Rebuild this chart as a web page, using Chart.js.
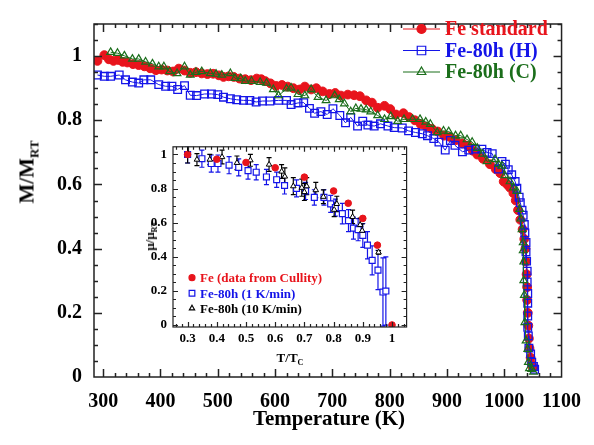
<!DOCTYPE html>
<html>
<head>
<meta charset="utf-8">
<script src="https://cdn.jsdelivr.net/npm/chart.js@4.4.1/dist/chart.umd.min.js"></script>
<style>
  html, body { margin: 0; padding: 0; background: #fff; }
  #wrap { position: relative; width: 594px; height: 445px; font-family: 'Liberation Serif', 'Times New Roman', serif; font-weight: bold; color: #000; }
  #main { position: absolute; left: 0; top: 0; }
  #inset { position: absolute; left: 130px; top: 133px; }
  .lbl { position: absolute; white-space: nowrap; transform: translate(-50%, -50%); }
  .rot { transform: translate(-50%, -50%) rotate(-90deg); }
  sub { font-size: 62%; vertical-align: -0.35em; line-height: 0; }
</style>
</head>
<body>
<div id="wrap">
  <canvas id="main" width="594" height="445"></canvas>
  <canvas id="inset" width="282" height="240"></canvas>
  <div class="lbl rot" style="left:27px; top:172px; font-size:21px;">M/M<sub>RT</sub></div>
  <div class="lbl" style="left:329px; top:418px; font-size:21px;">Temperature (K)</div>
  <div class="lbl" style="left:290px; top:358px; font-size:13px;">T/T<sub>C</sub></div>
  <div class="lbl rot" style="left:150px; top:236px; font-size:13px;">&mu;/&mu;<sub>RT</sub></div>
</div>
<script>
// ---- main plot: M/M_RT vs temperature ----
const seriesNames = ['Fe standard', 'Fe-80h (H)', 'Fe-80h (C)'];

const feStdT = [290, 302, 310, 318, 326, 334, 342, 352, 362, 372, 382, 392, 402, 412, 422, 432, 442, 452, 462, 472,
  482, 492, 502, 510, 519, 528, 538, 548, 558, 568, 576, 583, 592, 602, 612, 622, 632, 643, 652, 663,
  672, 683, 695, 705, 715, 727, 738, 748, 759, 769, 779, 791, 801, 811, 824, 834, 844, 854, 864, 874,
  884, 895, 905, 915, 927, 937, 945, 953, 963, 975, 985, 993, 999, 1005, 1010, 1016, 1020, 1024, 1028, 1032,
  1035, 1037, 1038, 1039, 1040, 1040, 1041, 1042, 1043, 1044, 1046, 1048, 1050];
const feStdM = [0.985, 1.003, 0.99, 0.985, 0.988, 0.982, 0.98, 0.975, 0.972, 0.968, 0.962, 0.956, 0.958, 0.955, 0.952, 0.961, 0.955, 0.948, 0.95, 0.946,
  0.944, 0.945, 0.94, 0.935, 0.937, 0.935, 0.93, 0.928, 0.925, 0.93, 0.928, 0.922, 0.915, 0.907, 0.91, 0.905, 0.9, 0.896, 0.905, 0.896,
  0.9, 0.89, 0.882, 0.885, 0.877, 0.88, 0.878, 0.875, 0.862, 0.855, 0.839, 0.845, 0.835, 0.818, 0.822, 0.81, 0.8, 0.788, 0.78, 0.773,
  0.765, 0.752, 0.748, 0.738, 0.728, 0.72, 0.705, 0.693, 0.68, 0.663, 0.648, 0.635, 0.609, 0.6, 0.59, 0.573, 0.55, 0.52, 0.49, 0.46,
  0.43, 0.4, 0.36, 0.32, 0.28, 0.24, 0.2, 0.16, 0.12, 0.09, 0.06, 0.04, 0.03];

const fe80hHT = [290, 302, 313, 328, 339, 351, 362, 371, 383, 397, 409, 420, 430, 442, 452, 463, 477, 489, 500, 510,
  522, 533, 545, 556, 567, 578, 591, 606, 620, 628, 640, 650, 660, 669, 680, 691, 701, 713, 723, 732,
  744, 753, 762, 773, 784, 797, 808, 822, 833, 845, 857, 866, 877, 886, 897, 906, 914, 927, 938, 950,
  961, 970, 979, 990, 996, 1002, 1007, 1013, 1019, 1022, 1026, 1028, 1031, 1033, 1035, 1036, 1038, 1038, 1039, 1040,
  1040, 1041, 1041, 1041, 1041, 1042, 1043, 1046, 1048, 1051, 1053];
const fe80hHM = [0.941, 0.937, 0.937, 0.941, 0.926, 0.919, 0.916, 0.926, 0.926, 0.911, 0.906, 0.906, 0.896, 0.908, 0.878, 0.877, 0.882, 0.882, 0.88, 0.872,
  0.867, 0.864, 0.862, 0.862, 0.857, 0.86, 0.86, 0.862, 0.862, 0.849, 0.854, 0.855, 0.837, 0.822, 0.827, 0.818, 0.836, 0.815, 0.792, 0.809,
  0.782, 0.797, 0.785, 0.782, 0.789, 0.782, 0.777, 0.776, 0.767, 0.762, 0.758, 0.752, 0.743, 0.732, 0.707, 0.737, 0.722, 0.702, 0.707, 0.71,
  0.71, 0.7, 0.696, 0.648, 0.672, 0.663, 0.646, 0.63, 0.609, 0.588, 0.56, 0.543, 0.52, 0.504, 0.475, 0.449, 0.419, 0.39, 0.361, 0.33,
  0.296, 0.26, 0.23, 0.19, 0.155, 0.128, 0.09, 0.072, 0.046, 0.033, 0.024];

const fe80hCT = [313, 325, 337, 351, 362, 374, 386, 397, 406, 416, 429, 442, 452, 462, 472, 487, 497, 507, 522, 530,
  540, 548, 559, 574, 585, 597, 606, 620, 628, 640, 652, 663, 675, 689, 704, 712, 721, 732, 741, 750,
  759, 767, 779, 791, 802, 814, 825, 840, 853, 863, 871, 883, 894, 903, 915, 924, 935, 944, 953, 962,
  970, 984, 990, 996, 1001, 1010, 1016, 1022, 1027, 1029, 1031, 1033, 1033, 1034, 1034, 1035, 1036, 1038, 1041, 1042,
  1044, 1048, 1051];
const fe80hCM = [1.012, 1.009, 1.001, 0.991, 0.991, 0.982, 0.976, 0.967, 0.967, 0.952, 0.946, 0.967, 0.941, 0.95, 0.952, 0.946, 0.944, 0.941, 0.946, 0.931,
  0.93, 0.922, 0.922, 0.919, 0.916, 0.896, 0.877, 0.898, 0.901, 0.881, 0.877, 0.896, 0.872, 0.862, 0.877, 0.865, 0.852, 0.827, 0.837, 0.835,
  0.833, 0.827, 0.815, 0.803, 0.812, 0.797, 0.803, 0.803, 0.803, 0.795, 0.788, 0.762, 0.767, 0.765, 0.752, 0.752, 0.74, 0.732, 0.713, 0.695,
  0.672, 0.678, 0.663, 0.658, 0.628, 0.609, 0.59, 0.579, 0.523, 0.493, 0.46, 0.419, 0.394, 0.359, 0.301, 0.255, 0.17, 0.113, 0.087, 0.046,
  0.027, 0.024, 0.016];

const xTicks = [300, 400, 500, 600, 700, 800, 900, 1000, 1100];
const yTicks = [0, 0.2, 0.4, 0.6, 0.8, 1];

// ---- inset: mu/mu_RT vs T/Tc ----
const insetNames = ['Fe (data from Cullity)', 'Fe-80h (1 K/min)', 'Fe-80h (10 K/min)'];

const cullityX = [0.3, 0.4, 0.5, 0.6, 0.7, 0.8, 0.85, 0.9, 0.95, 1.0];
const cullityY = [1.0, 0.972, 0.953, 0.922, 0.867, 0.786, 0.714, 0.625, 0.468, 0.0];

const slowX = [0.30, 0.349, 0.381, 0.404, 0.442, 0.475, 0.507, 0.535, 0.570, 0.605, 0.632, 0.673, 0.704, 0.734, 0.767, 0.790, 0.806, 0.830, 0.851, 0.868, 0.884, 0.900, 0.916, 0.932, 0.952, 0.969, 0.979];
const slowY = [1.0, 0.975, 0.947, 0.947, 0.937, 0.924, 0.905, 0.896, 0.868, 0.852, 0.818, 0.801, 0.786, 0.748, 0.748, 0.710, 0.688, 0.653, 0.612, 0.568, 0.559, 0.525, 0.468, 0.379, 0.322, 0.193, 0.199];
const slowErr = [0.05, 0.05, 0.05, 0.05, 0.05, 0.05, 0.05, 0.045, 0.045, 0.045, 0.05, 0.05, 0.05, 0.045, 0.045, 0.05, 0.05, 0.06, 0.065, 0.065, 0.065, 0.07, 0.08, 0.085, 0.115, 0.2, 0.2];

const fastX = [0.30, 0.332, 0.376, 0.418, 0.469, 0.515, 0.579, 0.622, 0.633, 0.662, 0.691, 0.700, 0.708, 0.739, 0.765, 0.802, 0.811, 0.865, 0.891, 0.898, 0.954];
const fastY = [1.0, 0.970, 0.970, 0.985, 0.951, 0.966, 0.941, 0.900, 0.871, 0.814, 0.805, 0.780, 0.814, 0.791, 0.752, 0.676, 0.710, 0.634, 0.587, 0.553, 0.426];
const fastErr = [0.05, 0.035, 0.03, 0.04, 0.04, 0.035, 0.04, 0.04, 0.05, 0.05, 0.05, 0.05, 0.05, 0.045, 0.04, 0.04, 0.045, 0.04, 0.04, 0.04, 0.01];

const insetXTicks = [0.3, 0.4, 0.5, 0.6, 0.7, 0.8, 0.9, 1];
const insetYTicks = [0, 0.2, 0.4, 0.6, 0.8, 1];

const RED = '#e8141c', BLUE = '#1414e8', GREEN = '#1b6e1b', BLACK = '#000';
const SERIF = "'Liberation Serif', 'Times New Roman', serif";

const toPts = (xs, ys) => xs.map((x, i) => ({ x: x, y: ys[i] }));

function steps(from, to, step) {
  const out = [];
  for (let v = from; v <= to + 1e-9; v += step) out.push(+v.toFixed(4));
  return out;
}

function drawMarker(ctx, style, r, x, y, color, filled) {
  ctx.save();
  ctx.strokeStyle = color;
  ctx.fillStyle = color;
  ctx.lineWidth = 1.2;
  ctx.beginPath();
  if (style === 'circle') {
    ctx.arc(x, y, r, 0, Math.PI * 2);
  } else if (style === 'rect') {
    const s = r * Math.SQRT1_2;
    ctx.rect(x - s, y - s, 2 * s, 2 * s);
  } else {
    ctx.moveTo(x, y - r);
    ctx.lineTo(x + r * 0.866, y + r * 0.5);
    ctx.lineTo(x - r * 0.866, y + r * 0.5);
    ctx.closePath();
  }
  if (filled) ctx.fill();
  ctx.stroke();
  ctx.restore();
}

// frame around the plot with inward ticks on all four sides
function framePlugin(cfg) {
  return {
    id: 'frame_' + cfg.name,
    afterDraw(chart) {
      const { ctx, chartArea: a, scales: { x, y } } = chart;
      ctx.save();
      ctx.strokeStyle = cfg.color;
      ctx.lineWidth = cfg.width;
      ctx.beginPath();
      const xt = (vals, len) => vals.forEach(v => {
        const p = Math.round(x.getPixelForValue(v)) + 0.5;
        if (p < a.left || p > a.right) return;
        ctx.moveTo(p, a.bottom); ctx.lineTo(p, a.bottom - len);
        ctx.moveTo(p, a.top); ctx.lineTo(p, a.top + len);
      });
      const yt = (vals, len) => vals.forEach(v => {
        const p = Math.round(y.getPixelForValue(v)) + 0.5;
        if (p < a.top || p > a.bottom) return;
        ctx.moveTo(a.left, p); ctx.lineTo(a.left + len, p);
        ctx.moveTo(a.right, p); ctx.lineTo(a.right - len, p);
      });
      xt(cfg.xMinor, cfg.minorLen);
      xt(cfg.xMajor, cfg.majorLen);
      yt(cfg.yMinor, cfg.minorLen);
      yt(cfg.yMajor, cfg.majorLen);
      ctx.stroke();
      ctx.strokeRect(a.left, a.top, a.right - a.left, a.bottom - a.top);
      ctx.restore();
    }
  };
}

// legend rows: short line / marker / coloured bold label
function legendPlugin(cfg) {
  return {
    id: 'legend_' + cfg.name,
    afterDraw(chart) {
      const ctx = chart.ctx;
      ctx.save();
      ctx.font = 'bold ' + cfg.fontSize + 'px ' + SERIF;
      ctx.textBaseline = 'middle';
      cfg.items.forEach((it, i) => {
        const yy = cfg.rows[i];
        if (cfg.lineFrom !== undefined) {
          ctx.strokeStyle = it.color;
          ctx.lineWidth = 1;
          ctx.beginPath();
          ctx.moveTo(cfg.lineFrom, yy); ctx.lineTo(cfg.lineTo, yy);
          ctx.stroke();
        }
        drawMarker(ctx, it.style, it.r, cfg.markerX, yy, it.color, it.filled);
        ctx.fillStyle = it.textColor || it.color;
        ctx.fillText(it.text, cfg.textX, yy + 1);
      });
      ctx.restore();
    }
  };
}

// vertical error bars from dataset.errorBars
const errorBars = {
  id: 'errorBars',
  beforeDatasetsDraw(chart) {
    const { ctx, chartArea: a, scales: { x, y } } = chart;
    ctx.save();
    ctx.beginPath();
    ctx.rect(a.left, a.top, a.right - a.left, a.bottom - a.top);
    ctx.clip();
    chart.data.datasets.forEach(ds => {
      if (!ds.errorBars) return;
      ctx.strokeStyle = ds.borderColor;
      ctx.lineWidth = 1.2;
      ctx.beginPath();
      ds.data.forEach((p, i) => {
        const e = ds.errorBars[i];
        const px = x.getPixelForValue(p.x);
        const y1 = y.getPixelForValue(p.y + e);
        const y2 = y.getPixelForValue(p.y - e);
        ctx.moveTo(px, y1); ctx.lineTo(px, y2);
        ctx.moveTo(px - 2.5, y1); ctx.lineTo(px + 2.5, y1);
        ctx.moveTo(px - 2.5, y2); ctx.lineTo(px + 2.5, y2);
      });
      ctx.stroke();
    });
    ctx.restore();
  }
};

function axis(min, max, ticks, fontSize, pad, fit) {
  return {
    type: 'linear', min: min, max: max,
    afterBuildTicks: s => { s.ticks = ticks.map(v => ({ value: v })); },
    afterFit: fit,
    grid: { display: false, drawTicks: false },
    border: { display: false },
    ticks: {
      padding: pad, color: '#000', autoSkip: false, maxRotation: 0,
      font: { family: SERIF, size: fontSize, weight: 'bold' },
      callback: v => String(v)
    }
  };
}

new Chart(document.getElementById('main'), {
  type: 'scatter',
  data: {
    datasets: [
      { label: seriesNames[0], data: toPts(feStdT, feStdM), showLine: true, borderColor: RED, borderWidth: 1,
        pointStyle: 'circle', pointRadius: 4.4, pointBackgroundColor: RED, pointBorderColor: RED, pointBorderWidth: 1, order: 3 },
      { label: seriesNames[1], data: toPts(fe80hHT, fe80hHM), showLine: true, borderColor: BLUE, borderWidth: 1,
        pointStyle: 'rect', pointRadius: 5.4, pointBackgroundColor: 'rgba(255,255,255,0)', pointBorderColor: BLUE, pointBorderWidth: 1.3, order: 2 },
      { label: seriesNames[2], data: toPts(fe80hCT, fe80hCM), showLine: true, borderColor: GREEN, borderWidth: 1,
        pointStyle: 'triangle', pointRadius: 4.4, pointBackgroundColor: 'rgba(255,255,255,0)', pointBorderColor: GREEN, pointBorderWidth: 1.2, order: 1 }
    ]
  },
  options: {
    responsive: false, animation: false, devicePixelRatio: 1,
    layout: { padding: { top: 7, right: 30, left: 0, bottom: 0 } },
    plugins: { legend: { display: false }, tooltip: { enabled: false } },
    scales: {
      x: axis(284, 1100, xTicks, 20, 13, s => { s.height = 68; }),
      y: axis(0, 1.1, yTicks, 20, 12, s => { s.width = 94; })
    }
  },
  plugins: [
    framePlugin({ name: 'main', color: '#222', width: 1.5, majorLen: 8, minorLen: 4,
      xMajor: xTicks, xMinor: steps(300, 1100, 20), yMajor: yTicks, yMinor: steps(0, 1.1, 0.05) }),
    legendPlugin({ name: 'main', fontSize: 20, lineFrom: 403, lineTo: 440, markerX: 421.5, textX: 445, rows: [29, 50.5, 72],
      items: [
        { text: seriesNames[0], color: RED, style: 'circle', r: 4.5, filled: true },
        { text: seriesNames[1], color: BLUE, style: 'rect', r: 6, filled: false },
        { text: seriesNames[2], color: GREEN, style: 'triangle', r: 5, filled: false }
      ] })
  ]
});

new Chart(document.getElementById('inset'), {
  type: 'scatter',
  data: {
    datasets: [
      { label: insetNames[0], data: toPts(cullityX, cullityY), borderColor: RED,
        pointStyle: 'circle', pointRadius: 3.3, pointBackgroundColor: RED, pointBorderColor: RED, order: 1 },
      { label: insetNames[1], data: toPts(slowX, slowY), errorBars: slowErr, borderColor: BLUE,
        pointStyle: 'rect', pointRadius: 4.2, pointBackgroundColor: '#fff', pointBorderColor: BLUE, pointBorderWidth: 1.2, order: 3 },
      { label: insetNames[2], data: toPts(fastX, fastY), errorBars: fastErr, borderColor: BLACK,
        pointStyle: 'triangle', pointRadius: 3.2, pointBackgroundColor: '#fff', pointBorderColor: BLACK, pointBorderWidth: 1, order: 2 }
    ]
  },
  options: {
    responsive: false, animation: false, devicePixelRatio: 1,
    layout: { padding: { top: 8, right: 5, left: 0, bottom: 0 } },
    plugins: { legend: { display: false }, tooltip: { enabled: false } },
    scales: {
      x: axis(0.25, 1.05, insetXTicks, 13, 4, s => { s.height = 46; }),
      y: axis(-0.012, 1.045, insetYTicks, 13, 6, s => { s.width = 43; })
    }
  },
  plugins: [
    errorBars,
    framePlugin({ name: 'inset', color: '#222', width: 1.2, majorLen: 5, minorLen: 3,
      xMajor: insetXTicks, xMinor: steps(0.26, 1.04, 0.02), yMajor: insetYTicks, yMinor: steps(0, 1.0, 0.05) }),
    legendPlugin({ name: 'inset', fontSize: 13, markerX: 62, textX: 70, rows: [144.7, 160.3, 175.3],
      items: [
        { text: insetNames[0], color: RED, style: 'circle', r: 3, filled: true },
        { text: insetNames[1], color: BLUE, style: 'rect', r: 4, filled: false },
        { text: insetNames[2], color: BLACK, textColor: BLACK, style: 'triangle', r: 3, filled: false }
      ] })
  ]
});
</script>
</body>
</html>
